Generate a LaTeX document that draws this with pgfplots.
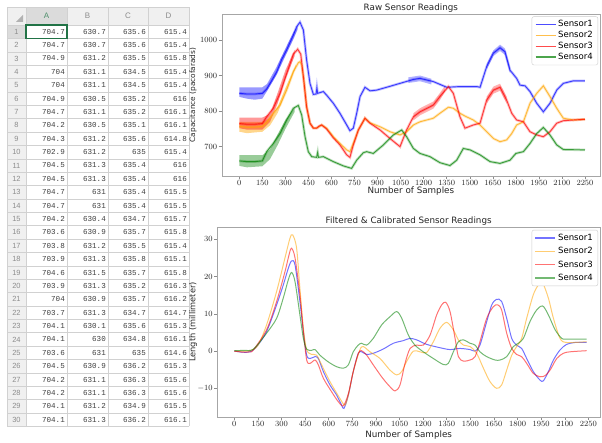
\documentclass[border=0pt]{standalone}
\usepackage{fontspec}
\setmainfont{DejaVu Sans}
\newfontfamily\cellfont{Liberation Mono}
\newfontfamily\hdrfont{Liberation Sans}
\usepackage{pgfplots}
\pgfplotsset{compat=1.18}
\definecolor{mplblue}{RGB}{0,0,255}
\definecolor{mplorange}{RGB}{255,165,0}
\definecolor{mplred}{RGB}{255,0,0}
\definecolor{mplgreen}{RGB}{0,128,0}
\definecolor{excelgreen}{RGB}{33,115,70}
\pgfplotsset{
  common/.style={
    scale only axis, anchor=south west,
    axis line style={black!35}, tick style={black!45, line width=0.5bp},
    major tick length=3bp, tick align=outside, tick pos=left,
    xtick={0,150,...,2250},
    /pgf/number format/1000 sep={},
    ticklabel style={font=\fontsize{8.3}{9}\selectfont, text=black!85},
    xticklabel style={inner sep=1.5bp},
    yticklabel style={inner sep=1.5bp},
    every axis title shift=0pt,
    title style={font=\fontsize{8.8}{10}\selectfont, text=black!85, at={(axis description cs:0.5,1)}, anchor=south, yshift=0pt, inner sep=1.5bp},
    xlabel style={font=\fontsize{8.8}{10}\selectfont, text=black!85, anchor=center},
    ylabel style={font=\fontsize{8.3}{10}\selectfont, text=black!85, anchor=center},
    legend style={font=\fontsize{8.6}{10}\selectfont, draw=black!20, rounded corners=2bp, fill=white,
      anchor=north east, inner xsep=3bp, inner ysep=2bp, row sep=-1bp, cells={anchor=west}},
    legend cell align=left,
    legend image code/.code={\draw[#1, line width=1.2bp] (0bp,0bp) -- (20bp,0bp);},
  }
}
\begin{document}
\begin{tikzpicture}
\useasboundingbox (0,0) rectangle (602bp,443bp);
\fill[white] (0,0) rectangle (602bp,443bp);
% ---------- spreadsheet ----------
\fill[black!6] (7bp,418bp) rectangle (189bp,436bp);
\fill[black!6] (7bp,16.6bp) rectangle (26bp,418bp);
\fill[black!14] (26bp,418bp) rectangle (67bp,436bp);
\fill[black!14] (7bp,404.62bp) rectangle (26bp,418bp);
\foreach \xx in {7,26,67,108,148,189} \draw[black!18, line width=0.5bp] (\xx bp,16.6bp) -- (\xx bp,436bp);
\foreach \r in {0,...,30} {\pgfmathsetmacro\yy{418-\r*13.38}\draw[black!18, line width=0.5bp] (7bp,\yy bp) -- (189bp,\yy bp);}
\draw[black!18, line width=0.5bp] (7bp,436bp) -- (189bp,436bp);
\fill[black!30] (23bp,421bp) -- (23bp,428bp) -- (16bp,421bp) -- cycle;
\node[font=\hdrfont\fontsize{8}{9}\selectfont, text=excelgreen!80] at (46.5bp,427bp) {A};
\node[font=\hdrfont\fontsize{8}{9}\selectfont, text=black!45] at (87.5bp,427bp) {B};
\node[font=\hdrfont\fontsize{8}{9}\selectfont, text=black!45] at (128bp,427bp) {C};
\node[font=\hdrfont\fontsize{8}{9}\selectfont, text=black!45] at (168.5bp,427bp) {D};
\foreach \r in {1,...,30} {\pgfmathsetmacro\yy{418-(\r-0.5)*13.38}
  \node[font=\hdrfont\fontsize{7.5}{9}\selectfont, text=black!45] at (16.5bp,\yy bp) {\r};}
\foreach \r/\a/\b/\c/\d in {
1/704.7/630.7/635.6/615.4, 2/704.7/630.7/635.6/615.4, 3/704.9/631.2/635.5/615.8,
4/704/631.1/634.5/615.4, 5/704/631.1/634.5/615.4, 6/704.9/630.5/635.2/616,
7/704.7/631.1/635.2/616.1, 8/704.2/630.5/635.1/616.1, 9/704.3/631.2/635.6/614.8,
10/702.9/631.2/635/615.4, 11/704.5/631.3/635.4/616, 12/704.5/631.3/635.4/616,
13/704.7/631/635.4/615.5, 14/704.7/631/635.4/615.5, 15/704.2/630.4/634.7/615.7,
16/703.6/630.9/635.7/615.8, 17/703.8/631.2/635.5/615.4, 18/703.9/631.3/635.8/615.1,
19/704.6/631.5/635.7/615.8, 20/703.9/631.3/635.2/616.3, 21/704/630.9/635.7/616.2,
22/703.7/631.3/634.7/614.7, 23/704.1/630.1/635.6/615.3, 24/704.1/630/634.8/616.1,
25/703.6/631/635/614.6, 26/704.5/630.9/636.2/615.3, 27/704.2/631.1/636.3/615.6,
28/704.2/631.1/636.3/615.6, 29/704.1/631.2/634.9/615.5, 30/704.1/631.3/636.2/616.1} {
  \pgfmathsetmacro\yy{418-(\r-0.5)*13.38}
  \begin{scope}[every node/.style={anchor=east, font=\cellfont\fontsize{7.6}{9}\selectfont, text=black!75, inner sep=0pt}]
  \node at (65bp,\yy bp) {\a};
  \node at (106bp,\yy bp) {\b};
  \node at (146bp,\yy bp) {\c};
  \node at (187bp,\yy bp) {\d};
  \end{scope}
}
\draw[excelgreen, line width=1.6bp] (26bp,404.62bp) rectangle (67bp,418bp);
% ---------- raw readings ----------
\begin{axis}[common, at={(221.7bp,267bp)}, width=378.3bp, height=162bp,
  xmin=-114.6, xmax=2347.7, ymin=617.6, ymax=1073, ytick={700,800,900,1000},
  title={Raw Sensor Readings}, xlabel={Number of Samples}, ylabel={Capacitance (pacofarads)},
  xlabel style={at={(axis description cs:0.5,0)}, yshift=-14.7bp},
  ylabel style={at={(axis description cs:-0.0759,0.5)}, font=\fontsize{7.4}{9}\selectfont},
  legend style={at={(0.995,0.985)}}]
% noise bands
\addplot[fill=mplblue, fill opacity=0.4, draw=none, forget plot] coordinates {
(0,867)(150,867)(180,876)(240,922)(300,976)(350,1020)(380,1040)(380,1030)(350,1000)(300,955)(240,900)(180,856)(150,835)(100,832)(50,835)(0,840)} -- cycle;
\addplot[fill=mplorange, fill opacity=0.45, draw=none, forget plot] coordinates {
(0,770)(150,770)(200,780)(250,812)(300,865)(370,932)(370,925)(300,850)(250,795)(200,760)(150,742)(50,738)(0,742)} -- cycle;
\addplot[fill=mplred, fill opacity=0.4, draw=none, forget plot] coordinates {
(0,782)(150,782)(200,792)(250,852)(300,915)(360,972)(360,955)(300,890)(250,822)(200,770)(150,748)(50,748)(0,752)} -- cycle;
\addplot[fill=mplgreen, fill opacity=0.4, draw=none, forget plot] coordinates {
(0,676)(150,676)(200,692)(250,735)(300,775)(360,810)(360,798)(300,750)(250,705)(200,665)(150,645)(50,642)(0,646)} -- cycle;
% noisy mid-chart stretches
\addplot[fill=mplblue, fill opacity=0.3, draw=none, forget plot] coordinates {
(1100,895)(1176,900)(1250,891)(1250,875)(1176,884)(1100,879)} -- cycle;
\addplot[fill=mplblue, fill opacity=0.3, draw=none, forget plot] coordinates {
(1610,933)(1654,971)(1697,987)(1729,976)(1762,923)(1762,907)(1729,958)(1697,969)(1654,955)(1610,917)} -- cycle;
\addplot[fill=mplred, fill opacity=0.3, draw=none, forget plot] coordinates {
(1133,794)(1176,808)(1263,827)(1306,851)(1340,872)(1340,856)(1306,831)(1263,807)(1176,788)(1133,774)} -- cycle;
\addplot[fill=mplred, fill opacity=0.3, draw=none, forget plot] coordinates {
(1610,841)(1654,869)(1697,877)(1740,841)(1740,821)(1697,857)(1654,849)(1610,821)} -- cycle;
% wide fuzzy underlays
\addplot[mplblue, line width=2.6bp, opacity=0.25, forget plot] coordinates {
(0,850)(50,848)(100,848)(150,850)(178,862)(210,885)(243,910)(276,945)(308,972)(352,1014)(373,1037)(395,1050)(417,1028)(438,944)(460,878)(482,847)(500,848)(505,866)(510,850)(547,855)(568,845)(612,822)(655,794)(699,761)(720,745)(742,752)(764,794)(786,841)(818,867)(851,857)(894,859)(959,867)(1046,878)(1133,889)(1176,892)(1263,883)(1350,867)(1436,869)(1545,869)(1567,867)(1610,925)(1654,963)(1697,978)(1729,967)(1762,915)(1805,892)(1827,873)(1860,871)(1892,855)(1936,822)(1979,798)(2022,822)(2066,859)(2109,878)(2174,885)(2250,885)};
\addplot[mplorange, line width=2.6bp, opacity=0.25, forget plot] coordinates {
(0,757)(50,755)(100,755)(150,757)(178,768)(221,794)(265,817)(308,859)(352,911)(384,936)(395,939)(406,930)(420,887)(438,812)(460,766)(482,752)(503,752)(536,761)(568,752)(612,728)(655,709)(699,691)(720,686)(742,709)(775,747)(818,780)(851,767)(916,756)(981,742)(1046,733)(1089,742)(1133,761)(1176,770)(1263,780)(1306,794)(1361,811)(1393,808)(1436,794)(1469,786)(1523,775)(1567,761)(1610,742)(1654,723)(1697,714)(1740,719)(1773,737)(1805,761)(1849,770)(1892,822)(1936,850)(1979,871)(2022,841)(2066,808)(2109,780)(2174,775)(2250,777)};
\addplot[mplred, line width=2.6bp, opacity=0.25, forget plot] coordinates {
(0,765)(50,763)(100,763)(150,765)(178,784)(221,808)(265,850)(308,905)(352,960)(380,974)(400,960)(417,897)(438,812)(460,766)(482,752)(503,752)(520,758)(536,761)(568,750)(612,725)(655,705)(699,677)(720,670)(742,705)(775,747)(818,780)(851,766)(916,747)(981,723)(1046,700)(1089,747)(1133,784)(1176,798)(1263,817)(1306,841)(1361,869)(1393,850)(1436,784)(1469,752)(1523,761)(1567,766)(1610,831)(1654,859)(1697,867)(1740,831)(1773,794)(1805,775)(1849,770)(1892,742)(1936,733)(1979,728)(2022,742)(2066,766)(2109,773)(2174,775)(2250,777)};
\addplot[mplgreen, line width=2.6bp, opacity=0.25, forget plot] coordinates {
(0,660)(50,658)(100,658)(150,660)(178,686)(221,709)(265,737)(308,775)(352,808)(384,816)(406,789)(428,728)(449,686)(471,672)(503,670)(510,684)(515,670)(547,672)(612,658)(677,646)(731,639)(764,662)(807,683)(829,686)(872,681)(938,705)(1003,733)(1057,747)(1089,728)(1133,695)(1176,681)(1241,672)(1306,655)(1371,647)(1415,662)(1458,695)(1502,691)(1567,677)(1632,658)(1697,653)(1762,662)(1800,681)(1849,686)(1892,709)(1936,737)(1979,754)(2022,733)(2066,705)(2109,692)(2250,691)};
% main lines
\addplot[mplblue, line width=0.9bp, opacity=0.7] coordinates {
(0,850)(50,848)(100,848)(150,850)(178,862)(210,885)(243,910)(276,945)(308,972)(352,1014)(373,1037)(395,1050)(417,1028)(438,944)(460,878)(482,847)(500,848)(505,866)(510,850)(547,855)(568,845)(612,822)(655,794)(699,761)(720,745)(742,752)(764,794)(786,841)(818,867)(851,857)(894,859)(959,867)(1046,878)(1133,889)(1176,892)(1263,883)(1350,867)(1436,869)(1545,869)(1567,867)(1610,925)(1654,963)(1697,978)(1729,967)(1762,915)(1805,892)(1827,873)(1860,871)(1892,855)(1936,822)(1979,798)(2022,822)(2066,859)(2109,878)(2174,885)(2250,885)};
\addplot[mplorange, line width=0.9bp, opacity=0.7] coordinates {
(0,757)(50,755)(100,755)(150,757)(178,768)(221,794)(265,817)(308,859)(352,911)(384,936)(395,939)(406,930)(420,887)(438,812)(460,766)(482,752)(503,752)(536,761)(568,752)(612,728)(655,709)(699,691)(720,686)(742,709)(775,747)(818,780)(851,767)(916,756)(981,742)(1046,733)(1089,742)(1133,761)(1176,770)(1263,780)(1306,794)(1361,811)(1393,808)(1436,794)(1469,786)(1523,775)(1567,761)(1610,742)(1654,723)(1697,714)(1740,719)(1773,737)(1805,761)(1849,770)(1892,822)(1936,850)(1979,871)(2022,841)(2066,808)(2109,780)(2174,775)(2250,777)};
\addplot[mplred, line width=0.9bp, opacity=0.7] coordinates {
(0,765)(50,763)(100,763)(150,765)(178,784)(221,808)(265,850)(308,905)(352,960)(380,974)(400,960)(417,897)(438,812)(460,766)(482,752)(503,752)(520,758)(536,761)(568,750)(612,725)(655,705)(699,677)(720,670)(742,705)(775,747)(818,780)(851,766)(916,747)(981,723)(1046,700)(1089,747)(1133,784)(1176,798)(1263,817)(1306,841)(1361,869)(1393,850)(1436,784)(1469,752)(1523,761)(1567,766)(1610,831)(1654,859)(1697,867)(1740,831)(1773,794)(1805,775)(1849,770)(1892,742)(1936,733)(1979,728)(2022,742)(2066,766)(2109,773)(2174,775)(2250,777)};
\addplot[mplgreen, line width=0.9bp, opacity=0.7] coordinates {
(0,660)(50,658)(100,658)(150,660)(178,686)(221,709)(265,737)(308,775)(352,808)(384,816)(406,789)(428,728)(449,686)(471,672)(503,670)(510,684)(515,670)(547,672)(612,658)(677,646)(731,639)(764,662)(807,683)(829,686)(872,681)(938,705)(1003,733)(1057,747)(1089,728)(1133,695)(1176,681)(1241,672)(1306,655)(1371,647)(1415,662)(1458,695)(1502,691)(1567,677)(1632,658)(1697,653)(1762,662)(1800,681)(1849,686)(1892,709)(1936,737)(1979,754)(2022,733)(2066,705)(2109,692)(2250,691)};
\legend{Sensor1,Sensor2,Sensor3,Sensor4}
\end{axis}
% ---------- filtered ----------
\begin{axis}[common, at={(217.3bp,26bp)}, width=382.7bp, height=190bp,
  xmin=-108, xmax=2324, ymin=-17.7, ymax=33.3, ytick={-10,0,10,20,30},
  title={Filtered \& Calibrated Sensor Readings}, xlabel={Number of Samples}, ylabel={Length (millimeter)},
  xlabel style={at={(axis description cs:0.5,0)}, yshift=-18bp},
  ylabel style={at={(axis description cs:-0.0635,0.5)}},
  legend style={at={(0.995,0.985)}, row sep=1.5bp}]
\addplot[mplblue, line width=1bp, opacity=0.55, smooth] coordinates {
(0,0)(50,-0.3)(100,-0.2)(142,1.2)(205,5.2)(269,12.4)(311,17.7)(343,22.2)(364,24.2)(386,23.1)(417,13.3)(439,5.2)(460,-1.1)(481,-2)(513,-1.5)(534,-2)(566,-5.5)(608,-9.1)(650,-11.8)(682,-14.5)(697,-15.4)(725,-11.8)(756,-5.5)(788,-0.6)(809,-0.2)(841,-0.9)(883,-0.6)(947,0.55)(1011,2.1)(1074,2.8)(1117,3.4)(1159,3.0)(1222,1.8)(1307,0.9)(1371,0.4)(1434,0.7)(1498,0.4)(1530,0)(1561,1.6)(1604,7.9)(1636,12.4)(1667,13.9)(1699,13.3)(1731,8.8)(1763,3.4)(1794,1.6)(1826,0.7)(1858,-2)(1900,-5.5)(1943,-7.8)(1964,-8)(1996,-5.5)(2028,-2.4)(2070,0.3)(2112,1.8)(2165,2.3)(2239,2.3)};
\addplot[mplorange, line width=1bp, opacity=0.55, smooth] coordinates {
(0,0)(50,0)(100,0.1)(150,1.5)(205,7)(269,16)(322,25)(354,30.3)(371,31.2)(396,27.6)(417,16.8)(439,6.1)(460,0.3)(492,-0.9)(523,-1.1)(555,-3.7)(608,-8.2)(671,-12.7)(703,-14.5)(725,-11.8)(756,-5.5)(798,0.3)(820,1.2)(862,-0.2)(926,-2)(989,-5.1)(1032,-6.4)(1064,-5.5)(1095,-2.8)(1138,0)(1180,-0.2)(1222,-0.4)(1265,2.5)(1307,6.1)(1350,7.7)(1392,5.7)(1424,3)(1456,1.6)(1498,1.2)(1540,-0.6)(1583,-4.6)(1625,-8.2)(1667,-10)(1699,-9.1)(1731,-5.1)(1763,-1.1)(1794,1.2)(1826,3.4)(1858,8.8)(1900,15.1)(1932,17.7)(1960,18.2)(1996,14.2)(2028,8.8)(2070,3.4)(2112,2.3)(2239,2.5)};
\addplot[mplred, line width=1bp, opacity=0.55, smooth] coordinates {
(0,0)(57,-0.3)(100,-0.2)(121,0.3)(205,5.7)(269,13.3)(322,21.3)(350,26.2)(364,27.6)(386,25)(417,15.1)(439,5.2)(460,-2.4)(481,-3.3)(513,-2.4)(534,-3.7)(566,-7.3)(618,-10.9)(661,-13.6)(693,-14.7)(725,-11.4)(756,-5.5)(788,-0.6)(809,0.1)(841,-1.1)(883,-3.7)(936,-6.9)(979,-9.1)(1021,-10.7)(1053,-9.1)(1085,-3.3)(1117,0.7)(1159,1.6)(1201,1.6)(1244,4.3)(1286,9.7)(1318,12.4)(1343,13.1)(1371,10.6)(1403,3.4)(1424,-1.5)(1456,-2.7)(1498,-2.4)(1530,-1.5)(1561,2.5)(1604,8.8)(1646,11.9)(1674,12.4)(1699,11)(1731,4.8)(1763,0.7)(1794,-0.9)(1826,-1.5)(1858,-3.3)(1900,-6)(1943,-6.9)(1975,-6.6)(2007,-5.1)(2049,-2)(2091,-0.6)(2133,-0.2)(2239,0.1)};
\addplot[mplgreen, line width=1bp, opacity=0.55, smooth] coordinates {
(0,0.1)(60,0.2)(121,0.5)(205,4.8)(269,8.8)(311,14.2)(343,19.1)(364,21.1)(386,18.6)(417,9.7)(439,3.4)(460,0.5)(492,0.2)(513,0.4)(544,-1.1)(597,-2.9)(650,-4.2)(693,-4.6)(725,-3.7)(756,-0.2)(788,1.6)(809,2.1)(841,1.6)(883,3.4)(936,7)(989,9.2)(1032,10.6)(1064,8.8)(1106,4.3)(1148,1.6)(1201,-0.2)(1265,-2)(1328,-3.6)(1360,-3.3)(1392,-0.2)(1424,2.5)(1456,3)(1498,2.1)(1530,1.6)(1561,-0.2)(1604,-1.5)(1657,-2.4)(1689,-2.4)(1731,-1.5)(1773,1.2)(1805,2.1)(1837,3.4)(1879,7.9)(1921,11)(1960,12.1)(1996,9.7)(2039,5.7)(2081,3.4)(2112,3.2)(2239,3.2)};
\legend{Sensor1,Sensor2,Sensor3,Sensor4}
\end{axis}
\end{tikzpicture}
\end{document}
